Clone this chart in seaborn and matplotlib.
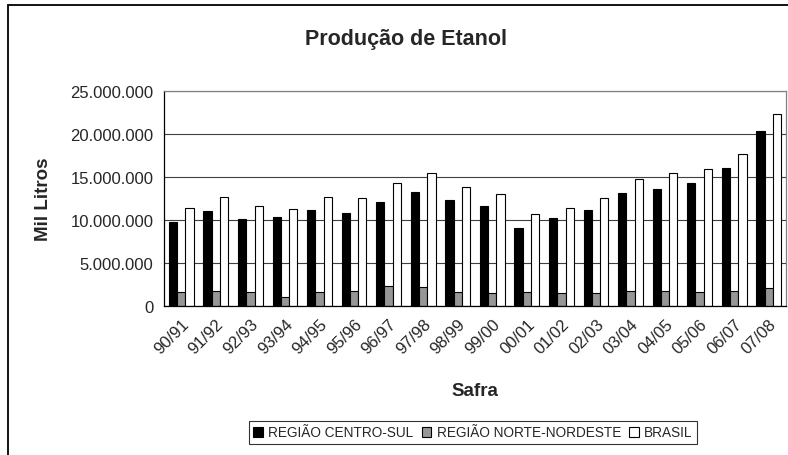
import pandas as pd
import matplotlib
matplotlib.use("Agg")
import matplotlib.pyplot as plt
import matplotlib.ticker as mticker
from matplotlib.patches import Rectangle
import seaborn as sns

# Safras (harvest seasons) and production in thousand litres
safras = ["90/91", "91/92", "92/93", "93/94", "94/95", "95/96", "96/97", "97/98", "98/99",
          "99/00", "00/01", "01/02", "02/03", "03/04", "04/05", "05/06", "06/07", "07/08"]
centro_sul = [9730000, 11050000, 10080000, 10390000, 11200000, 10870000, 12130000, 13260000, 12290000,
              11630000, 9110000, 10230000, 11200000, 13100000, 13570000, 14340000, 16080000, 20390000]
norte_nordeste = [1670000, 1780000, 1630000, 1000000, 1630000, 1740000, 2290000, 2170000, 1630000,
                  1470000, 1630000, 1470000, 1470000, 1740000, 1740000, 1630000, 1740000, 2130000]
brasil = [11430000, 12710000, 11590000, 11320000, 12710000, 12560000, 14340000, 15470000, 13800000,
          13060000, 10700000, 11430000, 12560000, 14770000, 15470000, 15930000, 17640000, 22300000]

series = ["REGIÃO CENTRO-SUL", "REGIÃO NORTE-NORDESTE", "BRASIL"]
colors = ["#000000", "#969696", "#ffffff"]


def build_frame():
    rows = []
    for name, values in zip(series, [centro_sul, norte_nordeste, brasil]):
        for safra, v in zip(safras, values):
            rows.append({"Safra": safra, "Mil Litros": v, "Serie": name})
    return pd.DataFrame(rows)


def main():
    df = build_frame()

    sns.set_style("white")
    plt.rcParams["font.family"] = ["Liberation Sans", "DejaVu Sans"]

    fig = plt.figure(figsize=(7.88, 4.56), dpi=100)
    ax = fig.add_axes([164 / 788, 149 / 456, 622 / 788, 215 / 456])

    ax.yaxis.grid(True, color="#404040", linewidth=0.8)
    ax.set_axisbelow(True)

    sns.barplot(data=df, x="Safra", y="Mil Litros", hue="Serie", palette=colors,
                edgecolor="black", linewidth=0.8, width=0.72, ax=ax)

    ax.set_xlim(-0.5, len(safras) - 0.5)
    ax.set_ylim(0, 25000000)
    ax.yaxis.set_major_locator(mticker.MultipleLocator(5000000))
    ax.yaxis.set_major_formatter(mticker.FuncFormatter(lambda v, p: f"{int(v):,}".replace(",", ".")))

    # category ticks sit between groups, as in the original spreadsheet chart
    ax.set_xticks([i - 0.5 for i in range(len(safras) + 1)], minor=True)
    ax.tick_params(axis="x", which="minor", length=4, width=0.8, color="black", direction="out")
    ax.tick_params(axis="x", which="major", length=0, pad=7)
    ax.tick_params(axis="y", length=4, width=0.8, color="black", direction="out", labelsize=12)
    ax.set_xticks(range(len(safras)))
    ax.set_xticklabels(safras, rotation=45, ha="right", rotation_mode="anchor", fontsize=12)

    for side in ["left", "bottom"]:
        ax.spines[side].set_color("black")
        ax.spines[side].set_linewidth(0.9)
    for side in ["top", "right"]:
        ax.spines[side].set_color("#808080")
        ax.spines[side].set_linewidth(0.9)

    ax.set_xlabel("Safra", fontsize=13.5, fontweight="bold", labelpad=19)
    ax.set_ylabel("Mil Litros", fontsize=13.5, fontweight="bold", labelpad=13)
    fig.text(406 / 788, 1 - 40 / 456, "Produção de Etanol", ha="center", va="center",
             fontsize=15.5, fontweight="bold")

    handles, labels = ax.get_legend_handles_labels()
    ax.get_legend().remove()
    leg = fig.legend(handles, labels, loc="center", bbox_to_anchor=(473 / 788, 1 - 433.5 / 456),
                     ncol=3, frameon=True, fancybox=False, edgecolor="black", fontsize=9.8,
                     handlelength=0.7, handleheight=0.7, handletextpad=0.4, columnspacing=0.6,
                     borderpad=0.35, borderaxespad=0)
    leg.get_frame().set_linewidth(0.8)

    # outer chart border (left and top edges visible in the original crop)
    fig.patches.append(Rectangle((8 / 788, -0.05), 1.0, 1 - 6 / 456 + 0.05, transform=fig.transFigure,
                                 fill=False, edgecolor="black", linewidth=1.3))

    fig.savefig("out.png", dpi=100)
    plt.close(fig)


if __name__ == "__main__":
    main()
